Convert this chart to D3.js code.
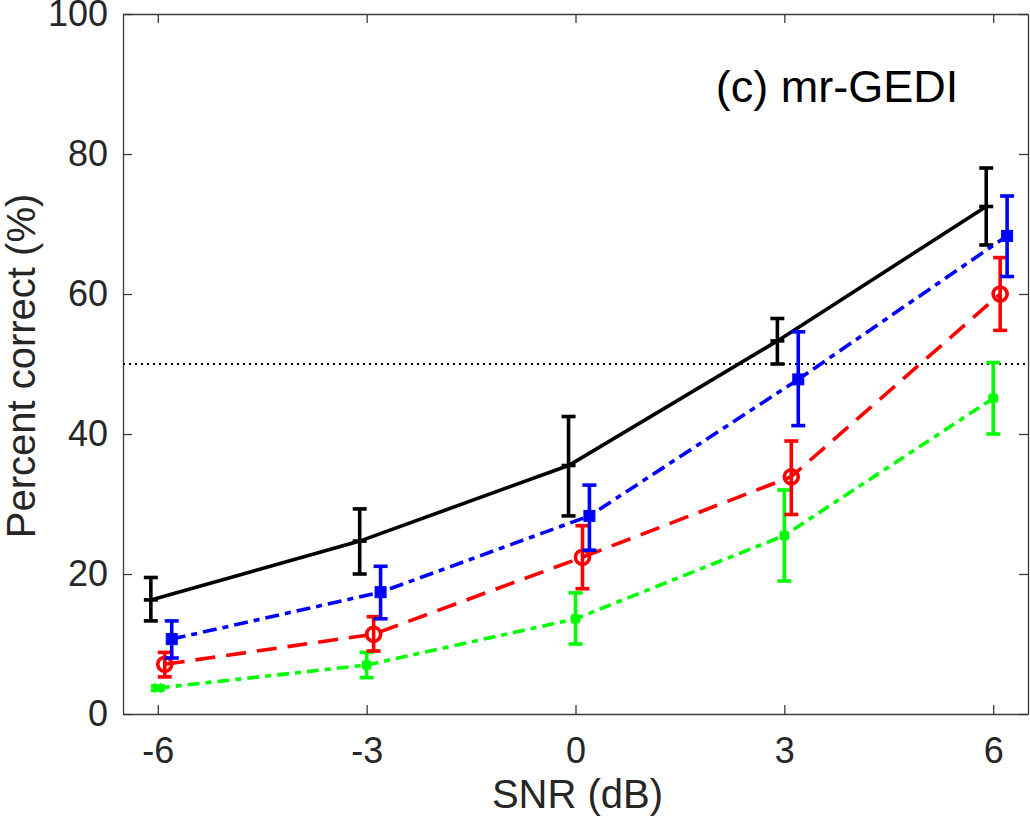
<!DOCTYPE html>
<html>
<head>
<meta charset="utf-8">
<script src="https://cdn.jsdelivr.net/npm/d3@7"></script>
<style>
  body { margin: 0; background: #fff; }
  text { font-family: "Liberation Sans", Arial, sans-serif; }
</style>
</head>
<body>
<div id="chart"></div>
<script>
// data
const snr = [-6, -3, 0, 3, 6]
const black = [16.3, 24.7, 35.5, 53.3, 72.5]
const blackLo = [13.3, 20.0, 28.3, 50.0, 67.0]
const blackHi = [19.5, 29.3, 42.5, 56.5, 78.0]
const blue = [10.7, 17.4, 28.3, 47.8, 68.3]
const blueLo = [8.0, 13.6, 23.4, 41.2, 62.5]
const blueHi = [13.3, 21.1, 32.7, 54.6, 74.0]
const red = [7.1, 11.4, 22.4, 33.9, 60.0]
const redLo = [5.3, 9.0, 17.9, 28.5, 54.8]
const redHi = [8.8, 13.9, 26.9, 39.0, 65.2]
const green = [3.7, 7.0, 13.6, 25.5, 45.1]
const greenLo = [3.4, 5.2, 10.0, 19.0, 40.0]
const greenHi = [4.0, 8.8, 17.3, 32.0, 50.2]
const xTicks = [-6, -3, 0, 3, 6]
const yTicks = [0, 20, 40, 60, 80, 100]

const W = 1030, H = 823
const m = {left: 123, right: 2, top: 14, bottom: 109}

const svg = d3.select("#chart").append("svg")
    .attr("width", W)
    .attr("height", H)

const x = d3.scaleLinear().domain([-6.5, 6.5]).range([m.left, W - m.right])
const y = d3.scaleLinear().domain([0, 100]).range([H - m.bottom, m.top])

const series = [
    {vals: black, lo: blackLo, hi: blackHi, color: "#000000", dash: null, off: -0.1, marker: "none"},
    {vals: green, lo: greenLo, hi: greenHi, color: "#00ff00", dash: "12,6,6,6", off: 0, marker: "x"},
    {vals: red, lo: redLo, hi: redHi, color: "#ff0000", dash: "20,11", off: 0.1, marker: "o"},
    {vals: blue, lo: blueLo, hi: blueHi, color: "#0000ff", dash: "14,6,6,6", off: 0.2, marker: "s"}
]

// axes
const fmt = d => String(d)
const gx = svg.append("g")
    .attr("transform", `translate(0,${H - m.bottom})`)
    .call(d3.axisBottom(x).tickValues(xTicks).tickSizeInner(-9).tickSizeOuter(0).tickPadding(23).tickFormat(fmt))
const gy = svg.append("g")
    .attr("transform", `translate(${m.left},0)`)
    .call(d3.axisLeft(y).tickValues(yTicks).tickSizeInner(-9).tickSizeOuter(0).tickPadding(15).tickFormat(fmt))
const gy2 = svg.append("g")
    .attr("transform", `translate(${W - m.right},0)`)
    .call(d3.axisRight(y).tickValues(yTicks).tickSizeInner(-9).tickSizeOuter(0).tickFormat(""))
const gx2 = svg.append("g")
    .attr("transform", `translate(0,${m.top})`)
    .call(d3.axisTop(x).tickValues(xTicks).tickSizeInner(-9).tickSizeOuter(0).tickFormat(""))

;[gx, gy, gy2, gx2].forEach(g => {
    g.select(".domain").attr("stroke", "#3a3a3a").attr("stroke-width", 1.3)
    g.selectAll(".tick line").attr("stroke", "#3a3a3a").attr("stroke-width", 1.3)
    g.selectAll(".tick text").attr("fill", "#262626").style("font-size", "36px")
})
gx.selectAll(".tick text").attr("dy", "0.71em")

// 50% line
svg.append("line")
    .attr("x1", x(-6.5)).attr("x2", x(6.5))
    .attr("y1", y(50)).attr("y2", y(50))
    .attr("stroke", "#000").attr("stroke-width", 1.8)
    .attr("stroke-dasharray", "2,4")

const line = d3.line()

series.forEach(s => {
    const pts = s.vals.map((v, i) => [x(snr[i] + s.off), y(v)])
    svg.append("path")
        .attr("d", line(pts))
        .attr("fill", "none")
        .attr("stroke", s.color)
        .attr("stroke-width", 3.6)
        .attr("stroke-dasharray", s.dash)

    const g = svg.append("g").attr("stroke", s.color).attr("stroke-width", 3.6)
    s.vals.forEach((v, i) => {
        const cx = x(snr[i] + s.off)
        g.append("line").attr("x1", cx).attr("x2", cx).attr("y1", y(s.lo[i])).attr("y2", y(s.hi[i]))
        g.append("line").attr("x1", cx - 7).attr("x2", cx + 7).attr("y1", y(s.lo[i])).attr("y2", y(s.lo[i]))
        g.append("line").attr("x1", cx - 7).attr("x2", cx + 7).attr("y1", y(s.hi[i])).attr("y2", y(s.hi[i]))
        const cy = y(v)
        if (s.marker == "o") {
            g.append("circle").attr("cx", cx).attr("cy", cy).attr("r", 7).attr("fill", "none")
        } else if (s.marker == "s") {
            g.append("rect").attr("x", cx - 5.5).attr("y", cy - 5.5).attr("width", 11).attr("height", 11)
                .attr("fill", s.color).attr("stroke-width", 1)
        } else if (s.marker == "x") {
            g.append("path").attr("d", `M${cx-4},${cy-4}L${cx+4},${cy+4}M${cx-4},${cy+4}L${cx+4},${cy-4}M${cx-5},${cy}L${cx+5},${cy}`)
        } else {
            g.append("line").attr("x1", cx - 7).attr("x2", cx + 7).attr("y1", cy).attr("y2", cy)
        }
    })
})

// labels
svg.append("text")
    .attr("x", x(0) + 2).attr("y", 808)
    .attr("text-anchor", "middle")
    .attr("fill", "#262626")
    .style("font-size", "40px")
    .text("SNR (dB)")

svg.append("text")
    .attr("transform", `translate(35,366) rotate(-90)`)
    .attr("text-anchor", "middle")
    .attr("fill", "#262626")
    .style("font-size", "40px")
    .text("Percent correct (%)")

svg.append("text")
    .attr("x", 837).attr("y", 102)
    .attr("text-anchor", "middle")
    .attr("fill", "#000")
    .style("font-size", "45px")
    .text("(c) mr-GEDI")
</script>
</body>
</html>
